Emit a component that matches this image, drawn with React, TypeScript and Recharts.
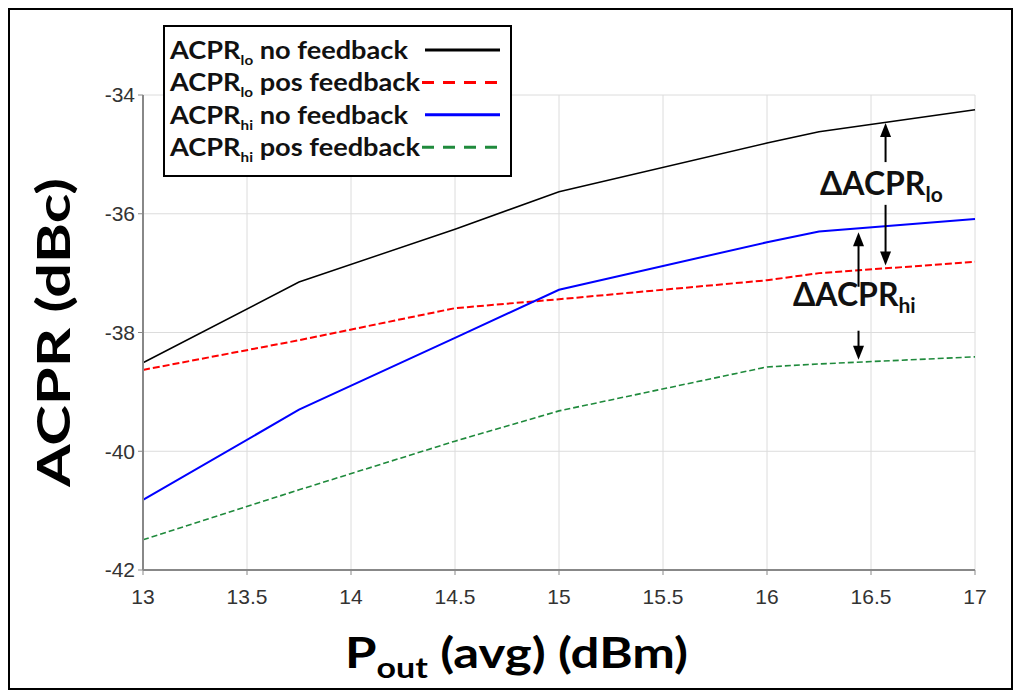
import { LineChart, Line, XAxis, YAxis, CartesianGrid, Legend, ReferenceLine, ReferenceDot } from 'recharts';

// P_out (avg) in dBm
const pout = [13, 13.75, 14.5, 15, 16, 16.25, 17];

// ACPR in dBc
const loNoFeedback = [-38.51, -37.15, -36.26, -35.63, -34.81, -34.62, -34.25];
const loPosFeedback = [-38.63, -38.13, -37.59, -37.44, -37.12, -37.0, -36.81];
const hiNoFeedback = [-40.82, -39.3, -38.09, -37.28, -36.48, -36.3, -36.09];
const hiPosFeedback = [-41.49, -40.65, -39.83, -39.32, -38.58, -38.53, -38.41];

const xTicks = [13, 13.5, 14, 14.5, 15, 15.5, 16, 16.5, 17];
const yTicks = [-42, -40, -38, -36, -34];

const data = pout.map((p, i) => ({
  pout: p,
  loNo: loNoFeedback[i],
  loPos: loPosFeedback[i],
  hiNo: hiNoFeedback[i],
  hiPos: hiPosFeedback[i],
}));

const series = [
  { key: 'loNo', sub: 'lo', rest: ' no feedback', color: '#000000', dash: undefined, width: 1.5, textLen: 238, sampleX: 262, legendDash: undefined },
  { key: 'loPos', sub: 'lo', rest: ' pos feedback', color: '#ff0000', dash: '7 3', width: 2, textLen: 250, sampleX: 259, legendDash: '12 9' },
  { key: 'hiNo', sub: 'hi', rest: ' no feedback', color: '#0000ff', dash: undefined, width: 2, textLen: 238, sampleX: 262, legendDash: undefined },
  { key: 'hiPos', sub: 'hi', rest: ' pos feedback', color: '#1f8a3c', dash: '6 3', width: 1.6, textLen: 250, sampleX: 259, legendDash: '12 9' },
];

const titleFont = 'Lato, "Open Sans", sans-serif';
const tickFont = '"Liberation Sans", Arial, sans-serif';

const renderLegend = () => (
  <svg width={349} height={152} style={{ display: 'block' }}>
    <rect x={1} y={1} width={347} height={150} fill="#fff" stroke="#000" strokeWidth={2} />
    {series.map((s, i) => {
      const cy = 25 + i * 32.4;
      return (
        <g key={s.key}>
          <text x={7} y={cy + 9} fontFamily={titleFont} fontWeight={700} fontSize={25} fill="#111"
            textLength={s.textLen} lengthAdjust="spacingAndGlyphs">
            ACPR<tspan fontSize={14} dy={6}>{s.sub}</tspan><tspan dy={-6}>{s.rest}</tspan>
          </text>
          <line x1={s.sampleX} x2={337} y1={cy} y2={cy} stroke={s.color} strokeWidth={3}
            strokeDasharray={s.legendDash} />
        </g>
      );
    })}
  </svg>
);

const renderYLabel = (props: any) => {
  const vb = props.viewBox;
  const cx = vb.x + 42;
  const cy = vb.y + vb.height / 2;
  return (
    <text x={cx} y={cy} transform={`rotate(-90, ${cx}, ${cy})`} textAnchor="middle" dominantBaseline="central"
      fontFamily={titleFont} fontWeight={700} fontSize={46} fill="#000" textLength={309} lengthAdjust="spacingAndGlyphs">
      ACPR (dBc)
    </text>
  );
};

const renderXLabel = (props: any) => {
  const vb = props.viewBox;
  return (
    <text x={vb.x + 202} y={vb.y + 98} fontFamily={titleFont} fontWeight={700} fontSize={42} fill="#000"
      textLength={343} lengthAdjust="spacingAndGlyphs">
      P<tspan fontSize={28} dy={10}>out</tspan><tspan dy={-10}> (avg) (dBm)</tspan>
    </text>
  );
};

const arrowHead = (dir: 'up' | 'down') => (p: any) => {
  const s = dir === 'up' ? 1 : -1;
  return (
    <polygon points={`${p.cx},${p.cy} ${p.cx - 5.5},${p.cy + s * 14} ${p.cx + 5.5},${p.cy + s * 14}`} fill="#000" />
  );
};

const deltaLabel = (sub: string) => (p: any) => (
  <text x={p.cx} y={p.cy} textAnchor="middle" fontFamily={titleFont} fontWeight={700} fontSize={32} fill="#111">
    ΔACPR<tspan fontSize={21} dy={7}>{sub}</tspan>
  </text>
);

// annotation positions (data space)
const loArrowX = 16.57;
const hiArrowX = 16.44;

export default function App() {
  return (
    <div style={{ width: 1001, height: 678, border: '2px solid #000', background: '#fff', fontFamily: tickFont }}>
      <LineChart width={1001} height={678} data={data} margin={{ top: 85, right: 36, bottom: 10, left: 0 }}>
        <CartesianGrid stroke="#dcdcdc" strokeWidth={1} />
        <XAxis dataKey="pout" type="number" domain={[13, 17]} ticks={xTicks} allowDecimals
          height={108} tickSize={5} tickMargin={14} interval={0}
          tick={{ fill: '#333', fontSize: 21, fontFamily: tickFont }}
          axisLine={{ stroke: '#888', strokeWidth: 2 }} tickLine={{ stroke: '#888' }}
          label={{ content: renderXLabel }} />
        <XAxis xAxisId="top" orientation="top" type="number" domain={[13, 17]} ticks={xTicks} height={0}
          tickSize={5} tickFormatter={() => ''} axisLine={{ stroke: '#999', strokeWidth: 1.5 }} tickLine={{ stroke: '#999' }} />
        <YAxis type="number" domain={[-42, -34]} ticks={yTicks} width={133} tickSize={5} tickMargin={3}
          tick={{ fill: '#333', fontSize: 21, fontFamily: tickFont }}
          axisLine={{ stroke: '#888', strokeWidth: 2 }} tickLine={{ stroke: '#888' }}
          label={{ content: renderYLabel }} />
        <YAxis yAxisId="right" orientation="right" type="number" domain={[-42, -34]} ticks={yTicks} width={0}
          tickSize={5} tickFormatter={() => ''} axisLine={{ stroke: '#999', strokeWidth: 1.5 }} tickLine={{ stroke: '#999' }} />
        {series.map((s) => (
          <Line key={s.key} type="linear" dataKey={s.key} stroke={s.color} strokeWidth={s.width}
            strokeDasharray={s.dash} dot={false} activeDot={false} isAnimationActive={false} />
        ))}

        <ReferenceLine segment={[{ x: loArrowX, y: -35.13 }, { x: loArrowX, y: -34.6 }]} stroke="#000" strokeWidth={2} />
        <ReferenceDot x={loArrowX} y={-34.47} shape={arrowHead('up')} />
        <ReferenceLine segment={[{ x: loArrowX, y: -35.85 }, { x: loArrowX, y: -36.7 }]} stroke="#000" strokeWidth={2} />
        <ReferenceDot x={loArrowX} y={-36.87} shape={arrowHead('down')} />
        <ReferenceDot x={16.55} y={-35.68} shape={deltaLabel('lo')} />

        <ReferenceLine segment={[{ x: hiArrowX, y: -37.23 }, { x: hiArrowX, y: -36.45 }]} stroke="#000" strokeWidth={2} />
        <ReferenceDot x={hiArrowX} y={-36.31} shape={arrowHead('up')} />
        <ReferenceLine segment={[{ x: hiArrowX, y: -37.97 }, { x: hiArrowX, y: -38.3 }]} stroke="#000" strokeWidth={2} />
        <ReferenceDot x={hiArrowX} y={-38.46} shape={arrowHead('down')} />
        <ReferenceDot x={16.42} y={-37.55} shape={deltaLabel('hi')} />

        <Legend layout="horizontal" verticalAlign="middle" align="center" content={renderLegend}
          wrapperStyle={{ left: 153, top: 15, width: 349, height: 152 }} />
      </LineChart>
    </div>
  );
}
